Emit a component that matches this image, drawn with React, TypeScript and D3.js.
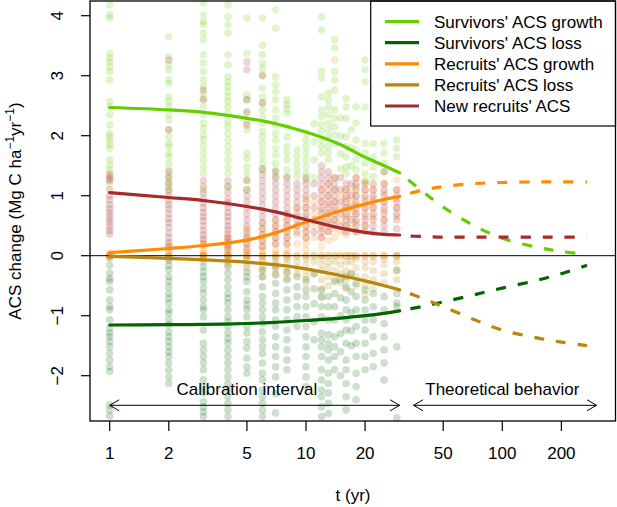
import * as d3 from "d3";

// observed plot values: [age (yr), values...]
const survGrowthPts: [number, number[]][] = [
  [1, [4.18, 4.01, 3.96, 3.37, 3.29, 3.23, 3.15, 3.07, 2.93, 2.57, 2.48, 2.35, 2.18, 2.04, 1.98, 1.93, 1.85, 1.79, 1.6, 1.51, 1.43, 1.2]],
  [2, [3.65, 3.32, 3.18, 3.1, 2.93, 2.87, 2.65, 2.57, 2.48, 2.35, 2.26, 2.1, 1.98, 1.87, 1.82, 1.71, 1.65, 1.54, 1.43, 1.32, 1.23, 1.15, 1.07]],
  [3, [4.21, 4.01, 3.9, 3.85, 3.71, 3.6, 3.35, 3.21, 3.07, 2.93, 2.82, 2.71, 2.62, 2.48, 2.35, 2.21, 2.12, 2.01, 1.93, 1.82, 1.71, 1.6, 1.48, 1.37, 1.1]],
  [4, [4.18, 3.98, 3.85, 3.71, 3.35, 3.18, 2.98, 2.9, 2.82, 2.73, 2.65, 2.57, 2.48, 2.37, 2.23, 2.15, 2.04, 1.93, 1.82, 1.71, 1.6, 1.48, 1.37, 1.15]],
  [5, [3.96, 3.37, 2.68, 2.6, 2.37, 2.21, 2.1, 1.71, 1.62, 1.48, 1.37, 1.26, 1.1]],
  [6, [3.96, 3.51, 3.35, 3.21, 3.12, 3.01, 2.79, 2.65, 2.54, 2.43, 2.32, 2.21, 2.07, 1.98, 1.87, 1.76, 1.65, 1.54, 1.43]],
  [7, [4.1, 3.79, 2.98, 2.85, 2.73, 2.6, 2.43, 2.29, 2.18, 2.04, 1.93, 1.79, 1.68, 1.54, 1.43, 1.32]],
  [8, [2.6, 2.52, 2.45, 2.37, 2.15, 1.98, 1.82, 1.71, 1.6, 1.43, 1.32]],
  [9, [1.76, 1.65, 1.54, 1.43, 1.32]],
  [10, [2.04, 1.93, 1.82, 1.71, 1.6, 1.48, 1.37, 1.26]],
  [11, [2.2, 1.9, 1.6, 1.3]],
  [12, [3.98, 3.76, 3.07, 2.96, 2.65, 2.43, 2.32, 2.18, 2.07, 1.93, 1.82, 1.71]],
  [13, [2.71, 2.6, 2.48, 2.35, 2.21, 2.1, 1.98, 1.82, 1.71, 1.6]],
  [14, [3.6, 3.46, 3.07, 2.93, 2.76, 2.43, 2.29, 2.15, 2.01, 1.87]],
  [15, [2.3, 2.0, 1.7, 1.45]],
  [16, [2.62, 2.48, 2.29, 1.98, 1.82, 1.65, 1.48, 1.37]],
  [17, [2.1, 1.8, 1.5]],
  [18, [2.48, 2.21, 1.93, 1.76, 1.6, 1.43]],
  [20, [3.26, 3.1, 2.9, 2.48, 1.87, 1.71, 1.54, 1.37, 1.23]],
  [22, [1.87, 1.65, 1.48, 1.32]],
  [25, [1.87, 1.71, 1.54, 1.4]],
  [29, [1.93, 1.79, 1.65]],
];

const survLossPts: [number, number[]][] = [
  [1, [-0.04, -0.16, -0.29, -0.38, -0.43, -0.57, -0.74, -0.85, -0.9, -1.07, -1.21, -1.29, -1.35, -1.43, -1.52, -1.63, -1.74, -1.85, -1.93, -2.49, -2.57, -2.67]],
  [2, [-0.07, -0.16, -0.24, -0.35, -0.43, -0.52, -0.63, -0.71, -0.79, -0.9, -0.96, -1.07, -1.15, -1.27, -1.35, -1.43, -1.52, -1.6, -1.68, -1.79, -1.9, -2.02, -2.13]],
  [3, [-0.18, -0.27, -0.35, -0.43, -0.54, -0.63, -0.74, -0.85, -0.9, -1.02, -1.24, -1.46, -1.57, -1.68, -1.79, -1.9, -2.07, -2.18, -2.29, -2.43, -2.52, -2.6, -2.68]],
  [4, [-0.18, -0.29, -0.4, -0.52, -0.63, -0.71, -0.79, -0.9, -1.02, -1.1, -1.18, -1.29, -1.38, -1.46, -1.57, -1.68, -1.79, -1.9, -2.02, -2.13, -2.24, -2.35, -2.46, -2.57, -2.68]],
  [5, [-0.27, -0.35, -0.43, -0.6, -0.74, -0.82, -0.9, -1.02, -1.18, -1.29, -1.43, -1.54, -1.71, -1.85, -1.96]],
  [6, [-0.24, -0.35, -0.52, -0.68, -0.79, -0.9, -1.02, -1.13, -1.27, -1.4, -1.52, -1.63, -1.79, -1.96, -2.07, -2.24, -2.35, -2.46, -2.57, -2.68]],
  [7, [-0.18, -0.32, -0.46, -0.63, -0.79, -0.9, -1.07, -1.18, -1.35, -1.52, -1.68, -1.85, -2.02, -2.3, -2.62]],
  [8, [-0.27, -0.4, -0.57, -0.74, -0.9, -1.07, -1.24, -1.4, -1.57, -1.74, -1.9]],
  [9, [-0.35, -0.52, -0.68, -0.85, -1.02, -1.18]],
  [10, [-0.4, -0.57, -0.68, -0.85, -1.02, -1.18, -1.35, -1.52, -1.68, -1.85, -2.02, -2.18]],
  [11, [-0.3, -0.55, -0.8, -1.1, -1.4]],
  [12, [-0.57, -0.68, -0.85, -1.02, -1.29, -1.4, -1.52, -1.68, -1.9, -2.07, -2.24, -2.35, -2.52, -2.68]],
  [13, [-0.68, -0.85, -1.07, -1.32, -1.46, -1.57, -1.74, -1.96, -2.13, -2.29, -2.46, -2.63]],
  [14, [-0.43, -0.63, -0.85, -1.07, -1.35, -1.52, -1.68, -1.9]],
  [15, [-0.4, -0.7, -1.0, -1.3, -1.6, -2.0]],
  [16, [-0.35, -0.52, -0.74, -0.9, -1.07, -1.24, -1.46, -1.74, -1.9, -2.13, -2.35, -2.57]],
  [17, [-0.3, -0.6, -0.95, -1.25, -1.5]],
  [18, [-0.46, -0.68, -0.9, -1.18, -1.46, -1.68, -1.96, -2.18, -2.4]],
  [20, [-0.57, -0.74, -0.9, -1.07, -1.24, -1.46, -1.68, -1.9]],
  [22, [-0.63, -0.85, -1.07, -1.35, -1.63, -1.85]],
  [25, [-0.68, -0.9, -1.13, -1.35, -1.57, -1.79, -2.07]],
  [29, [-0.24, -0.63, -0.79, -0.85, -1.52, -2.7]],
];

const recGrowthPts: [number, number[]][] = [
  [1, [0.05, 0.02, 0, 0]],
  [2, [0.2, 0.12, 0.06, 0.03, 0]],
  [3, [0.25, 0.17, 0.1, 0.05, 0.02, 0, 0]],
  [4, [0.3, 0.22, 0.16, 0.1, 0.05, 0.02, 0, 0]],
  [5, [0.45, 0.35, 0.28, 0.2, 0.12, 0.05, 0, 0]],
  [6, [0.55, 0.45, 0.35, 0.25, 0.15, 0.08, 0.02, 0]],
  [7, [0.6, 0.5, 0.4, 0.3, 0.2, 0.1, 0.03, 0]],
  [8, [0.7, 0.6, 0.5, 0.4, 0.3, 0.2, 0.1, 0.03, 0]],
  [9, [0.8, 0.65, 0.5, 0.35, 0.2, 0]],
  [10, [0.95, 0.8, 0.65, 0.5, 0.4, 0.3, 0.2, 0.1, 0]],
  [11, [0.9, 0.7, 0.5, 0.3, 0]],
  [12, [1.1, 0.9, 0.75, 0.6, 0.45, 0.3, 0.15, 0]],
  [13, [1.2, 1.0, 0.85, 0.7, 0.55, 0.4, 0.25, 0]],
  [14, [3.26, 1.3, 1.1, 0.9, 0.75, 0.6, 0.45, 0.3, 0]],
  [15, [1.0, 0.8, 0.6, 0.4, 0]],
  [16, [1.1, 0.95, 0.8, 0.65, 0.5, 0.35, 0]],
  [17, [1.1, 0.9, 0.7, 0.5, 0]],
  [18, [1.3, 1.15, 1.0, 0.85, 0.7, 0.55, 0.4, 0]],
  [20, [1.25, 1.1, 0.95, 0.8, 0.65, 0.5, 0]],
  [22, [1.1, 0.95, 0.8, 0.65, 0]],
  [25, [1.2, 1.05, 0.9, 0.75, 0.6, 0]],
  [29, [1.26, 1.1, 0.95, 0.8, 0.65, 0]],
];

const recLossPts: [number, number[]][] = [
  [1, [0, -0.01]],
  [2, [-0.02, -0.05, 0]],
  [3, [-0.03, -0.06, -0.1, 0]],
  [4, [-0.02, -0.06, -0.1, -0.15, 0]],
  [5, [-0.04, -0.08, -0.14, -0.2, 0]],
  [6, [-0.05, -0.1, -0.18, -0.25, -0.35, 0]],
  [7, [-0.04, -0.1, -0.15, -0.22, -0.3, 0]],
  [8, [-0.05, -0.12, -0.2, -0.28, -0.38, 0]],
  [9, [-0.1, -0.2, -0.3, 0]],
  [10, [-0.05, -0.15, -0.25, -0.35, -0.45, 0]],
  [11, [-0.1, -0.3, 0]],
  [12, [-0.05, -0.15, -0.25, -0.4, -0.55, -0.7, 0]],
  [13, [-0.1, -0.2, -0.35, -0.5, 0]],
  [14, [-0.1, -0.25, -0.4, 0]],
  [15, [-0.15, -0.3, -0.45, 0]],
  [16, [-0.1, -0.25, -0.4, -0.55, 0]],
  [17, [-0.1, -0.3, 0]],
  [18, [-0.05, -0.2, -0.35, -0.5, 0]],
  [20, [-0.1, -0.2, -0.35, -0.5, -0.65, 0]],
  [22, [-0.1, -0.25, -0.4, -0.55, 0]],
  [25, [-0.05, -0.15, -0.3, -0.45, 0]],
  [29, [0, 0, -0.1, -0.25, -0.4]],
];

const newRecPts: [number, number[]][] = [
  [1, [1.36, 1.32, 1.28, 1.25, 1.1, 1.0, 0.93, 0.85, 0.78, 0.72, 0.66, 0.6, 0.55, 0.48, 0.42, 0.36]],
  [2, [3.26, 2.1, 1.4, 1.3, 1.2, 1.1, 1.0, 0.92, 0.85, 0.78, 0.7, 0.62, 0.55, 0.47, 0.38, 0.3, 0.22, 0.15]],
  [3, [2.76, 2.6, 1.25, 1.15, 1.05, 0.95, 0.88, 0.8, 0.72, 0.65, 0.58, 0.5, 0.42, 0.35, 0.28, 0.2]],
  [4, [1.25, 1.15, 1.05, 0.95, 0.88, 0.8, 0.72, 0.65, 0.58, 0.5, 0.43, 0.36, 0.3, 0.24, 0.18, 0.12]],
  [5, [3.23, 3.1, 2.6, 2.4, 2.18, 1.25, 1.1, 1.0, 0.9, 0.8, 0.7, 0.6, 0.5, 0.4, 0.3, 0.2, 0.1]],
  [6, [3.0, 2.55, 1.45, 1.35, 1.25, 1.15, 1.05, 0.95, 0.85, 0.75, 0.65, 0.55, 0.45, 0.35, 0.25, 0.15]],
  [7, [1.4, 1.3, 1.2, 1.1, 1.0, 0.9, 0.8, 0.7, 0.6, 0.5, 0.4, 0.3, 0.2]],
  [8, [1.3, 1.2, 1.1, 1.0, 0.9, 0.8, 0.7, 0.6, 0.5, 0.4, 0.3, 0.2]],
  [9, [1.2, 1.1, 1.0, 0.9, 0.8, 0.7, 0.6, 0.5, 0.4]],
  [10, [1.3, 1.2, 1.1, 1.0, 0.9, 0.8, 0.7, 0.6, 0.5, 0.4, 0.3]],
  [11, [1.2, 1.0, 0.8, 0.6, 0.4]],
  [12, [1.5, 1.4, 1.3, 1.2, 1.1, 1.0, 0.9, 0.8, 0.7, 0.6, 0.5, 0.4, 0.3]],
  [13, [1.4, 1.3, 1.2, 1.1, 1.0, 0.9, 0.8, 0.7, 0.6, 0.5, 0.4]],
  [14, [1.3, 1.2, 1.1, 1.0, 0.9, 0.8, 0.7, 0.6, 0.5]],
  [15, [1.3, 1.1, 0.9, 0.7, 0.5]],
  [16, [1.2, 1.1, 1.0, 0.9, 0.8, 0.7, 0.6, 0.5, 0.4]],
  [17, [1.2, 1.0, 0.8, 0.6]],
  [18, [1.3, 1.2, 1.1, 1.0, 0.9, 0.8, 0.7, 0.6, 0.5, 0.4]],
  [20, [1.2, 1.1, 1.0, 0.9, 0.8, 0.7, 0.6, 0.5, 0.4]],
  [22, [1.2, 1.1, 1.0, 0.9, 0.8, 0.7, 0.6, 0.5, 0.4]],
  [25, [1.4, 1.2, 1.1, 1.0, 0.9, 0.8, 0.7, 0.6, 0.5, 0.4]],
  [29, [1.1, 1.0, 0.9, 0.8, 0.7, 0.6, 0.45]],
];

// fitted curves (calibration) and projections
const tFit = [1, 2, 3, 5, 7, 10, 15, 20, 25, 30];
const tProj = [30, 40, 50, 70, 100, 150, 200, 270];

const survGrowthFit = [2.47, 2.43, 2.39, 2.29, 2.2, 2.06, 1.85, 1.64, 1.5, 1.38];
const survGrowthProj = [1.38, 1.05, 0.81, 0.52, 0.29, 0.14, 0.07, 0.02];
const survLossFit = [-1.155, -1.15, -1.145, -1.13, -1.11, -1.08, -1.04, -1.0, -0.96, -0.92];
const survLossProj = [-0.92, -0.84, -0.77, -0.66, -0.54, -0.41, -0.3, -0.16];
const recGrowthFit = [0.05, 0.12, 0.17, 0.26, 0.38, 0.56, 0.75, 0.86, 0.94, 0.99];
const recGrowthProj = [0.99, 1.1, 1.15, 1.2, 1.22, 1.23, 1.23, 1.23];
const recLossFit = [-0.01, -0.045, -0.07, -0.11, -0.15, -0.22, -0.33, -0.42, -0.5, -0.57];
const recLossProj = [-0.57, -0.72, -0.85, -1.05, -1.24, -1.37, -1.44, -1.5];
const newRecFit = [1.05, 0.97, 0.92, 0.82, 0.73, 0.6, 0.46, 0.39, 0.355, 0.345];
const newRecProj = [0.33, 0.32, 0.31, 0.31, 0.31, 0.31, 0.31, 0.31];

const seriesNames = [
  "Survivors' ACS growth",
  "Survivors' ACS loss",
  "Recruits' ACS growth",
  "Recruits' ACS loss",
  "New recruits' ACS",
];
const seriesColors = ["#66CD00", "#006400", "#FF8C00", "#B8860B", "#A52A2A"];

const xTicks = [1, 2, 5, 10, 20, 50, 100, 200];
const yTicks = [-2, -1, 0, 1, 2, 3, 4];

const W = 617;
const H = 507;
const FONT = "'Liberation Sans', Arial, sans-serif";

const App = () => {
  const x = d3.scaleLog().domain([0.7937, 377.3]).range([90, 615.5]);
  const y = d3.scaleLinear().domain([-2.755, 4.245]).range([421, 1]);

  const line = d3
    .line<[number, number]>()
    .x((d) => x(d[0]))
    .y((d) => y(d[1]))
    .curve(d3.curveCatmullRom.alpha(0.5));

  const points = [survGrowthPts, survLossPts, recGrowthPts, recLossPts, newRecPts];
  const fits = [survGrowthFit, survLossFit, recGrowthFit, recLossFit, newRecFit];
  const projs = [survGrowthProj, survLossProj, recGrowthProj, recLossProj, newRecProj];

  const zip = (ts: number[], vs: number[]) => ts.map((t, i) => [t, vs[i]] as [number, number]);

  const arrow = (x0: number, x1: number, yy: number) => {
    const hx = 9.5;
    const hy = 5.5;
    return `M${x0},${yy}L${x1},${yy}M${x0 + hx},${yy - hy}L${x0},${yy}L${x0 + hx},${yy + hy}M${x1 - hx},${yy - hy}L${x1},${yy}L${x1 - hx},${yy + hy}`;
  };

  const legX = 370.7;
  const legY = 1;
  const legRow = 21.1;

  return (
    <svg
      width={W}
      height={H}
      style={{ position: "absolute", left: 0, top: 0, background: "#fff" }}
      fontFamily={FONT}
    >
      <rect width={W} height={H} fill="#fff" />

      {/* scatter */}
      {points.map((rows, k) => (
        <g key={k} fill={seriesColors[k]} fillOpacity={0.2}>
          {rows.flatMap(([t, vals]) =>
            vals.map((v, j) => <circle key={`${t}-${j}`} cx={x(t)} cy={y(v)} r={3.8} />),
          )}
        </g>
      ))}

      <line x1={90} x2={615.5} y1={y(0)} y2={y(0)} stroke="#000" strokeWidth={1} />

      {/* curves */}
      {fits.map((vals, k) => (
        <path
          key={`f${k}`}
          d={line(zip(tFit, vals)) ?? ""}
          fill="none"
          stroke={seriesColors[k]}
          strokeWidth={3.2}
          strokeLinecap="round"
        />
      ))}
      {projs.map((vals, k) => (
        <path
          key={`p${k}`}
          d={line(zip(tProj, vals)) ?? ""}
          fill="none"
          stroke={seriesColors[k]}
          strokeWidth={3.2}
          strokeDasharray="10 12"
          strokeDashoffset={-11}
        />
      ))}

      {/* arrows */}
      <path d={arrow(x(1), x(30), 405.3)} fill="none" stroke="#000" strokeWidth={1} />
      <path d={arrow(x(35.3), x(302), 405.3)} fill="none" stroke="#000" strokeWidth={1} />
      <text x={x(5)} y={395} fontSize={17} textAnchor="middle">
        Calibration interval
      </text>
      <text x={x(100)} y={395} fontSize={17} textAnchor="middle">
        Theoretical behavior
      </text>

      {/* legend */}
      <rect
        x={legX}
        y={legY}
        width={615.5 - legX}
        height={125}
        fill="#fff"
        stroke="#000"
        strokeWidth={1.2}
      />
      {seriesNames.map((name, i) => (
        <g key={name} transform={`translate(0,${21.6 + i * legRow})`}>
          <line x1={385} x2={419} y1={0} y2={0} stroke={seriesColors[i]} strokeWidth={3.2} />
          <text x={434} y={6} fontSize={17}>
            {name}
          </text>
        </g>
      ))}

      {/* frame */}
      <rect x={90} y={1} width={525.5} height={420} fill="none" stroke="#000" strokeWidth={1.3} />

      {/* x axis */}
      {xTicks.map((t) => (
        <g key={t}>
          <line x1={x(t)} x2={x(t)} y1={421} y2={431} stroke="#000" strokeWidth={1.2} />
          <text x={x(t)} y={459} fontSize={17} textAnchor="middle">
            {t}
          </text>
        </g>
      ))}
      <text x={353} y={501} fontSize={17} textAnchor="middle">
        t (yr)
      </text>

      {/* y axis */}
      {yTicks.map((v) => (
        <g key={v}>
          <line x1={81} x2={90} y1={y(v)} y2={y(v)} stroke="#000" strokeWidth={1.2} />
          <text
            transform={`translate(63,${y(v)}) rotate(-90)`}
            fontSize={17}
            textAnchor="middle"
          >
            {v < 0 ? `\u2212${-v}` : v}
          </text>
        </g>
      ))}
      <text transform={`translate(21,211) rotate(-90)`} fontSize={17} textAnchor="middle">
        ACS change (Mg C ha
        <tspan fontSize={12} dy={-7}>
          {"\u22121"}
        </tspan>
        <tspan dy={7}>yr</tspan>
        <tspan fontSize={12} dy={-7}>
          {"\u22121"}
        </tspan>
        <tspan dy={7}>)</tspan>
      </text>
    </svg>
  );
};

export default App;
